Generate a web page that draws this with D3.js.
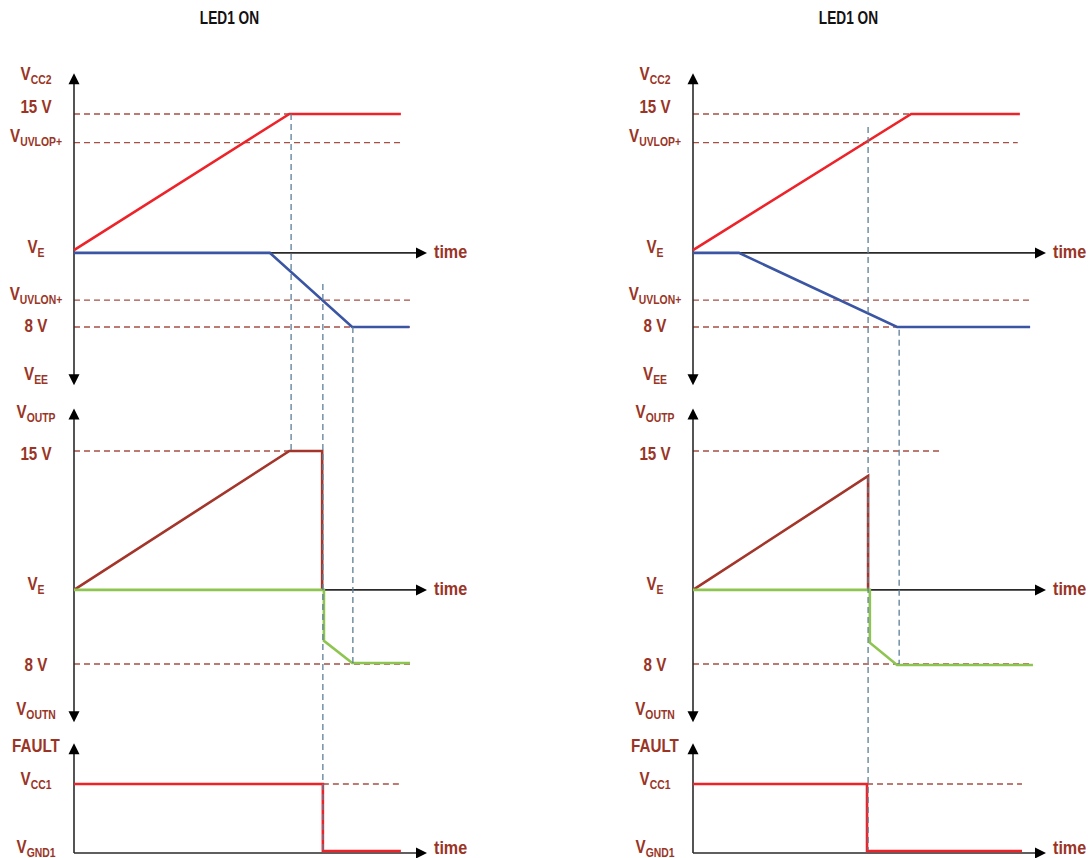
<!DOCTYPE html>
<html><head><meta charset="utf-8">
<script src="https://cdn.jsdelivr.net/npm/d3@7"></script>
<style>
body{margin:0;background:#fff;}
svg text{font-family:"Liberation Sans","Arimo",Arial,sans-serif;font-weight:bold;}
</style></head><body>
<svg id="chart" width="1088" height="858"></svg>
<script>
// ---------- DATA ----------
const panelTitles = ["LED1 ON", "LED1 ON"];
const timeLabel = "time";

// tick labels: [main, subscript, value on that plot's scale]
const labelsTop = [["V","CC2",19.2],["15 V","",15.66],["V","UVLOP+",12.5],["V","E",0.54],["V","UVLON+",-4.5],["8 V","",-8],["V","EE",-13.2]];
const labelsMid = [["V","OUTP",19.1],["15 V","",14.6],["V","E",0.5],["8 V","",-8.2],["V","OUTN",-13.0]];
const labelsFault = [["FAULT","",1.54],["V","CC1",1.06],["V","GND1",0.07]];

// axis extents (value units)
const axisTop = [-14.3, 19.4];
const axisMid = [-14.3, 19.6];
const axisFault = [0, 1.59];

// reference (dashed) levels: [value, t0, t1]
const refTopLeft   = [[15,0,92.4],[11.9,0,92.4],[-5.1,0,95.2],[-8,0,95.2]];
const refMidLeft   = [[15,0,70.3],[-8,0,95.2]];
const refFaultLeft = [[1,70.5,92.6]];
const refTopRight   = [[15,0,92.6],[11.9,0,92],[-5.1,0,95.5],[-8,0,95.5]];
const refMidRight   = [[15,0,70.8],[-8,0,96]];
const refFaultRight = [[1,49.3,93.2]];

// vertical markers: [t, fromPlot, fromValue, toPlot, toValue]
const markersLeft  = [[61.5,"top",15,"mid",15],[70.5,"top",-3.35,"fault",0.04],[79,"top",-8,"mid",-8]];
const markersRight = [[49.6,"top",13.6,"fault",0.04],[58.4,"top",-8.3,"mid",-8]];

// signals: [t, value]
const vcc2Left  = [[0,0.3],[61,15],[92.6,15]];
const veeLeft   = [[0,0],[55.5,0],[78.8,-8],[95,-8]];
const voutpLeft = [[0,0],[61,15],[70.3,15],[70.3,0]];
const voutnLeft = [[0,0],[70.8,0],[70.8,-5.5],[78.8,-7.9],[95.2,-7.9]];
const faultLeft = [[0,1],[70.5,1],[70.5,0.03],[92.6,0.03]];

const vcc2Right  = [[0,0.3],[61.8,15],[92.6,15]];
const veeRight   = [[0,0],[13,0],[57.8,-8],[95.5,-8]];
const voutpRight = [[0,0],[49.6,12.3],[49.6,0]];
const voutnRight = [[0,0],[50.1,0],[50.1,-5.7],[57.8,-8.1],[96.3,-8.1]];
const faultRight = [[0,1],[49.3,1],[49.3,0.03],[93.2,0.03]];

// ---------- DRAW ----------
const svg = d3.select("#chart");
const x = d3.scaleLinear().domain([0,100]).range([74,427]);
const yS = {
  top: d3.scaleLinear().domain([-8,15]).range([327,114]),
  mid: d3.scaleLinear().domain([-8,15]).range([664,451]),
  fault: d3.scaleLinear().domain([0,1]).range([853,784])
};
const C = {label:"#9a3526", red:"#ee2229", blue:"#3a55a4", brown:"#a3352a", green:"#8dc550",
  dash:"#a84f45", vdash:"#5d7f96", axis:"#2a2a2a"};

function ctext(g, px, py, size, anchor, fill, sx){
  return g.append("text").attr("transform",`translate(${px},${py}) scale(${sx},1)`)
    .attr("text-anchor",anchor).attr("font-size",size).attr("fill",fill);
}

function arrowHead(g, tipX, tipY, dir){
  const L = 11, W = 5.5;
  let pts;
  if(dir==="up") pts=[[tipX,tipY],[tipX-W,tipY+L],[tipX+W,tipY+L]];
  else if(dir==="down") pts=[[tipX,tipY],[tipX-W,tipY-L],[tipX+W,tipY-L]];
  else pts=[[tipX,tipY],[tipX-L,tipY-W],[tipX-L,tipY+W]];
  g.append("path").attr("d","M"+pts.map(p=>p.join(",")).join("L")+"Z").attr("fill","#000");
}

function drawPanel(offset, cfg){
  const g = svg.append("g").attr("transform",`translate(${offset},0)`);
  const line = (ys)=>d3.line().x(d=>x(d[0])).y(d=>ys(d[1]));

  // title
  ctext(g,(x(0)+x(100))/2-21,24,19,"middle","#111",0.72).text(cfg.title);

  // dashed reference lines
  [["top",cfg.refTop],["mid",cfg.refMid],["fault",cfg.refFault]].forEach(([k,arr])=>{
    g.selectAll(null).data(arr).enter().append("line")
      .attr("x1",d=>x(d[1])).attr("x2",d=>x(d[2]))
      .attr("y1",d=>yS[k](d[0])).attr("y2",d=>yS[k](d[0]))
      .attr("stroke",C.dash).attr("stroke-width",1.3).attr("stroke-dasharray","6,4");
  });

  // axes
  [["top",axisTop,true,5],["mid",axisMid,true,5],["fault",axisFault,false,0.5]].forEach(([k,ext,bothEnds,dy])=>{
    const ys = yS[k];
    const top = ys(ext[1]), bot = ys(ext[0]);
    g.append("line").attr("x1",x(0)).attr("x2",x(0)).attr("y1",top+6).attr("y2",bothEnds?bot-6:bot)
      .attr("stroke",C.axis).attr("stroke-width",1.6);
    arrowHead(g,x(0),top,"up");
    if(bothEnds) arrowHead(g,x(0),bot,"down");
    g.append("line").attr("x1",x(0)).attr("x2",x(100)-6).attr("y1",ys(0)).attr("y2",ys(0))
      .attr("stroke",C.axis).attr("stroke-width",1.6);
    arrowHead(g,x(100),ys(0),"right");
    ctext(g,x(100)+7,ys(0)+dy,19,"start",C.label,0.85).text(timeLabel);
  });

  // signals
  [["top",cfg.vcc2,C.red],["top",cfg.vee,C.blue],["mid",cfg.voutp,C.brown],
   ["mid",cfg.voutn,C.green],["fault",cfg.fault,C.red]].forEach(([k,data,col])=>{
    g.append("path").datum(data).attr("d",line(yS[k])).attr("fill","none")
      .attr("stroke",col).attr("stroke-width",2.6).attr("stroke-linejoin","miter");
  });

  // vertical markers
  g.selectAll(null).data(cfg.markers).enter().append("line")
    .attr("x1",d=>x(d[0])).attr("x2",d=>x(d[0]))
    .attr("y1",d=>yS[d[1]](d[2])).attr("y2",d=>yS[d[3]](d[4]))
    .attr("stroke",C.vdash).attr("stroke-width",1.3).attr("stroke-dasharray","6,4");

  // labels
  [["top",labelsTop],["mid",labelsMid],["fault",labelsFault]].forEach(([k,arr])=>{
    arr.forEach(d=>{
      const t = ctext(g,x(0)-38,yS[k](d[2])+5,19,"middle",C.label,0.8);
      t.append("tspan").text(d[0]);
      if(d[1]) t.append("tspan").attr("font-size",13).attr("dy",4).text(d[1]);
    });
  });
}

drawPanel(0,{title:panelTitles[0],refTop:refTopLeft,refMid:refMidLeft,refFault:refFaultLeft,
  markers:markersLeft,vcc2:vcc2Left,vee:veeLeft,voutp:voutpLeft,voutn:voutnLeft,fault:faultLeft});
drawPanel(619,{title:panelTitles[1],refTop:refTopRight,refMid:refMidRight,refFault:refFaultRight,
  markers:markersRight,vcc2:vcc2Right,vee:veeRight,voutp:voutpRight,voutn:voutnRight,fault:faultRight});
</script></body></html>
